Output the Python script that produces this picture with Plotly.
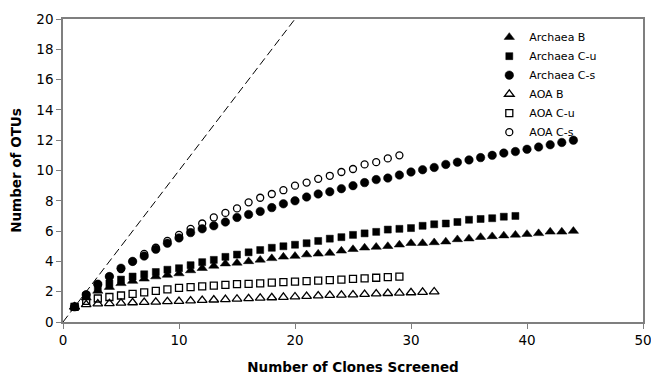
import plotly.graph_objects as go

archaea_b = [1.0, 1.6, 2.05, 2.3, 2.55, 2.7, 2.85, 3.0, 3.1, 3.2, 3.4, 3.55, 3.7, 3.85, 3.9,
             4.0, 4.1, 4.2, 4.3, 4.35, 4.45, 4.5, 4.55, 4.7, 4.8, 4.9, 4.95, 5.0, 5.1, 5.2,
             5.2, 5.25, 5.3, 5.45, 5.5, 5.6, 5.65, 5.7, 5.75, 5.8, 5.85, 5.95, 5.95, 6.0]
archaea_cu = [1.0, 1.75, 2.25, 2.55, 2.8, 3.0, 3.15, 3.3, 3.45, 3.55, 3.75, 3.95, 4.1, 4.3, 4.45,
              4.6, 4.75, 4.9, 5.0, 5.1, 5.2, 5.35, 5.5, 5.6, 5.75, 5.85, 5.95, 6.1, 6.15, 6.2,
              6.35, 6.45, 6.5, 6.6, 6.75, 6.8, 6.85, 6.95, 7.0]
archaea_cs = [1.0, 1.8, 2.5, 3.0, 3.55, 4.0, 4.35, 4.8, 5.2, 5.55, 5.9, 6.15, 6.35, 6.6, 6.9,
              7.1, 7.3, 7.55, 7.8, 8.0, 8.25, 8.45, 8.6, 8.8, 9.0, 9.2, 9.4, 9.5, 9.7, 9.9,
              10.05, 10.2, 10.4, 10.55, 10.7, 10.85, 11.0, 11.15, 11.25, 11.4, 11.55, 11.7, 11.85, 12.0]
aoa_b = [1.0, 1.15, 1.2, 1.22, 1.25, 1.28, 1.3, 1.32, 1.35, 1.37, 1.4, 1.43, 1.46, 1.49, 1.52,
         1.55, 1.58, 1.61, 1.64, 1.67, 1.7, 1.73, 1.76, 1.78, 1.8, 1.83, 1.86, 1.89, 1.91, 1.94,
         1.97, 2.0]
aoa_cu = [1.0, 1.4, 1.55, 1.65, 1.75, 1.85, 1.95, 2.05, 2.15, 2.25, 2.3, 2.35, 2.4, 2.45, 2.5,
          2.52, 2.55, 2.6, 2.63, 2.67, 2.7, 2.73, 2.77, 2.8, 2.84, 2.88, 2.92, 2.96, 3.0]
aoa_cs = [1.0, 1.8, 2.5, 3.0, 3.5, 4.0, 4.5, 4.9, 5.35, 5.75, 6.15, 6.5, 6.9, 7.2, 7.5,
          7.9, 8.2, 8.45, 8.7, 9.0, 9.2, 9.45, 9.65, 9.9, 10.1, 10.4, 10.55, 10.8, 11.0]

ref_line_x = [0, 20]
ref_line_y = [0, 20]

x_ticks = [0, 10, 20, 30, 40, 50]
y_ticks = [0, 2, 4, 6, 8, 10, 12, 14, 16, 18, 20]

series = [
    # name, values, symbol, size, line width, rank
    ("AOA C-s", aoa_cs, "circle-open", 7, 1.3, 6),
    ("AOA C-u", aoa_cu, "square-open", 7, 1.3, 5),
    ("AOA B", aoa_b, "triangle-up-open", 8.5, 1.3, 4),
    ("Archaea C-s", archaea_cs, "circle", 8.5, 0.5, 3),
    ("Archaea B", archaea_b, "triangle-up", 9, 0.5, 1),
    ("Archaea C-u", archaea_cu, "square", 7, 0.5, 2),
]

fig = go.Figure()
fig.add_trace(go.Scatter(x=ref_line_x, y=ref_line_y, mode="lines",
                         line=dict(color="black", width=1, dash="8px,4px"),
                         showlegend=False, hoverinfo="skip"))
for name, vals, sym, size, lw, rank in series:
    xs = list(range(1, len(vals) + 1))
    fig.add_trace(go.Scatter(
        x=xs, y=vals, mode="markers", name=name, legendrank=rank,
        marker=dict(symbol=sym, size=size, color="black",
                    line=dict(color="black", width=lw)),
    ))

axis_common = dict(showgrid=False, zeroline=False, showline=True, linecolor="#7f7f7f",
                   linewidth=1.5, mirror=True, ticks="outside", ticklen=5,
                   tickcolor="#7f7f7f", tickfont=dict(size=13.5, color="black"),
                   automargin=False, ticklabeloverflow="allow")
fig.update_xaxes(range=[0, 50], tickvals=x_ticks,
                 title=dict(text="<b>Number of Clones Screened</b>", font=dict(size=13.5),
                            standoff=16),
                 **axis_common)
fig.update_yaxes(range=[0, 20], tickvals=y_ticks,
                 title=dict(text="<b>Number of OTUs</b>", font=dict(size=13.5), standoff=12),
                 **axis_common)
fig.update_layout(
    width=651, height=380,
    margin=dict(l=63, r=8, t=19, b=58),
    paper_bgcolor="white", plot_bgcolor="white",
    font=dict(family="DejaVu Sans, Verdana, sans-serif", color="black"),
    legend=dict(x=0.735, y=0.988, xanchor="left", yanchor="top",
                font=dict(size=11), bgcolor="rgba(0,0,0,0)",
                tracegroupgap=0, itemwidth=30),
    showlegend=True,
)
fig.write_html("out.html", config={"displayModeBar": False},
               post_script="document.body.style.margin='0px';document.body.style.overflow='hidden';")
